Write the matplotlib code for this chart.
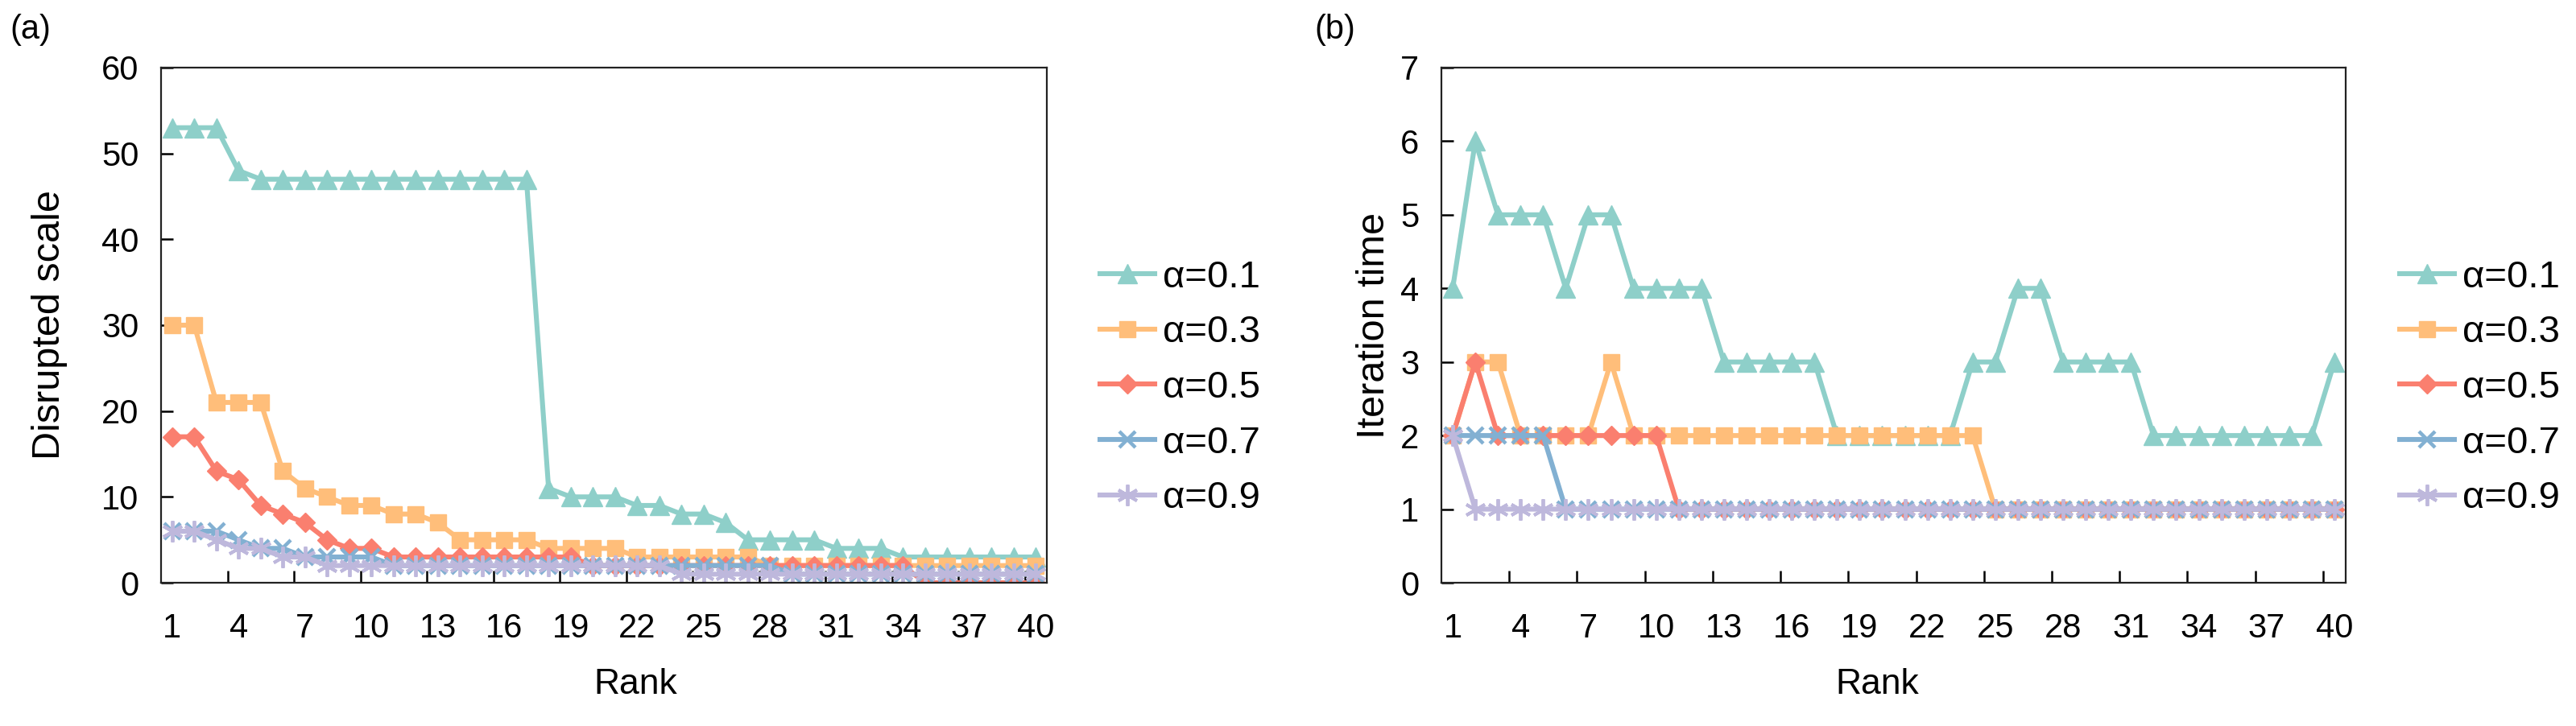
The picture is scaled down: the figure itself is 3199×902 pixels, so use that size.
import numpy as np
import matplotlib
matplotlib.use("Agg")
import matplotlib.pyplot as plt
from matplotlib.ticker import FixedLocator

plt.rcParams["font.family"] = ["Liberation Sans", "DejaVu Sans"]

ranks = list(range(1, 41))
alpha_labels = ["α=0.1", "α=0.3", "α=0.5", "α=0.7", "α=0.9"]

# (a) disrupted scale
scale_01 = [53, 53, 53, 48] + [47] * 13 + [11, 10, 10, 10, 9, 9, 8, 8, 7, 5, 5, 5, 5, 4, 4, 4] + [3] * 7
scale_03 = [30, 30, 21, 21, 21, 13, 11, 10, 9, 9, 8, 8, 7, 5, 5, 5, 5, 4, 4, 4, 4,
            3, 3, 3, 3, 3, 3] + [2] * 13
scale_05 = [17, 17, 13, 12, 9, 8, 7, 5, 4, 4] + [3] * 9 + [2] * 15 + [0] * 6
scale_07 = [6, 6, 6, 5, 4, 4, 3, 3, 3, 3] + [2] * 18 + [1] * 12
scale_09 = [6, 6, 5, 4, 4, 3, 3, 2, 2, 2] + [2] * 13 + [1] * 17

# (b) iteration time
iter_01 = [4, 6, 5, 5, 5, 4, 5, 5, 4, 4, 4, 4, 3, 3, 3, 3, 3, 2, 2, 2, 2, 2, 2,
           3, 3, 4, 4, 3, 3, 3, 3, 2, 2, 2, 2, 2, 2, 2, 2, 3]
iter_03 = [2, 3, 3, 2, 2, 2, 2, 3] + [2] * 16 + [1] * 16
iter_05 = [2, 3] + [2] * 8 + [1] * 30
iter_07 = [2] * 5 + [1] * 35
iter_09 = [2] + [1] * 39

colors = ["#8ECFC9", "#FFBE7A", "#FA7F6F", "#82B0D2", "#BEB8DC"]
styles = [
    dict(marker="^", ms=17),
    dict(marker="s", ms=15),
    dict(marker="D", ms=12),
    dict(marker="x", ms=15, mew=3.2),
    dict(marker=(6, 2, 0), ms=19, mew=2.8),
]

W, H = 3199, 902
fig = plt.figure(figsize=(W / 100, H / 100), dpi=100)
ax1 = fig.add_axes([200 / W, 1 - 724 / H, 1100 / W, 640 / H])
ax2 = fig.add_axes([1790 / W, 1 - 724 / H, 1123 / W, 640 / H])


def draw(ax, series, ymax, ystep, ylabel, ylab_x, xlab_x, leg_x):
    for vals, c, st, lab in zip(series, colors, styles, alpha_labels):
        ax.plot(ranks, vals, color=c, lw=4.4, label=lab,
                mfc=c, mec=c, **st)
    ax.set_xlim(0.5, 40.5)
    ax.set_ylim(0, ymax)
    ax.set_xticks(ranks[::3])
    ax.xaxis.set_minor_locator(FixedLocator(np.arange(3.5, 40, 3)))
    ax.set_yticks(np.arange(0, ymax + 0.1, ystep))
    ax.tick_params(axis="x", which="major", length=0, labelsize=30, pad=27)
    ax.tick_params(axis="x", which="minor", direction="in", length=11, width=1.8)
    ax.tick_params(axis="y", direction="in", length=11, width=1.8, labelsize=30, pad=20)
    for sp in ax.spines.values():
        sp.set_linewidth(1.6)
        sp.set_color("#222222")
    ax.set_xlabel("Rank", fontsize=32)
    ax.xaxis.set_label_coords(xlab_x, -0.165)
    ax.set_ylabel(ylabel, fontsize=35)
    ax.yaxis.set_label_coords(ylab_x, 0.5)
    fig.legend(handles=ax.get_lines(), loc="center left",
               bbox_to_anchor=(leg_x / W, 1 - 482 / H), frameon=False,
               fontsize=34, handlelength=1.45, handletextpad=0.2,
               labelspacing=0.52, borderaxespad=0, borderpad=0)


draw(ax1, [scale_01, scale_03, scale_05, scale_07, scale_09], 60, 10,
     "Disrupted scale", -0.105, 0.536, 1366)
draw(ax2, [iter_01, iter_03, iter_05, iter_07, iter_09], 7, 1,
     "Iteration time", -0.054, 0.482, 2980)

fig.text(12 / W, 1 - 37 / H, "(a)", fontsize=30, va="center")
fig.text(1632 / W, 1 - 37 / H, "(b)", fontsize=30, va="center")

fig.savefig("out.png", dpi=100)
